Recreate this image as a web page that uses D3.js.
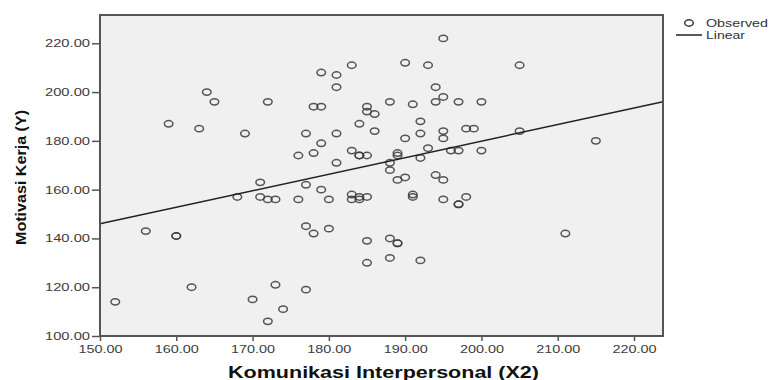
<!DOCTYPE html>
<html>
<head>
<meta charset="utf-8">
<script src="https://cdn.jsdelivr.net/npm/d3@7"></script>
<style>
  body { margin: 0; background: #fff; }
  svg { display: block; font-family: "Liberation Sans", Arial, sans-serif; }
</style>
</head>
<body>
<div id="chart"></div>
<script>
// Komunikasi Interpersonal (X2)
const komunikasi = [
  152, 156, 160, 160, 162, 159, 163, 164, 165, 169, 172, 171, 168, 171, 172, 173, 176, 180, 183, 183,
  184, 184, 185, 191, 191, 195, 197, 197, 198, 176, 178, 183, 184, 184, 185, 189, 189, 181, 188, 188,
  192, 193, 189, 190, 194, 195, 196, 197, 200, 177, 179, 177, 178, 180, 185, 188, 189, 189, 185, 188,
  192, 173, 177, 174, 170, 172, 195, 179, 181, 183, 190, 193, 181, 194, 178, 179, 185, 185, 186, 188,
  191, 194, 195, 197, 200, 177, 181, 179, 184, 186, 192, 192, 190, 195, 195, 198, 199, 205, 205, 215,
  211
];
// Motivasi Kerja (Y)
const motivasi = [
  114, 143, 141, 141, 120, 187, 185, 200, 196, 183, 196, 163, 157, 157, 156, 156, 156, 156, 158, 156,
  157, 156, 157, 158, 157, 156, 154, 154, 157, 174, 175, 176, 174, 174, 174, 175, 174, 171, 171, 168,
  173, 177, 164, 165, 166, 164, 176, 176, 176, 162, 160, 145, 142, 144, 139, 140, 138, 138, 130, 132,
  131, 121, 119, 111, 115, 106, 222, 208, 207, 211, 212, 211, 202, 202, 194, 194, 194, 192, 191, 196,
  195, 196, 198, 196, 196, 183, 183, 179, 187, 184, 188, 183, 181, 184, 181, 185, 185, 211, 184, 180,
  142
];
const xTicks = [150, 160, 170, 180, 190, 200, 210, 220];
const yTicks = [100, 120, 140, 160, 180, 200, 220];
const xDomain = [150, 223.8];
const yDomain = [100, 231.6];
// linear fit
const fitIntercept = 44.3;
const fitSlope = 0.678;
const legendLabels = ["Observed", "Linear"];

const W = 771, H = 380;
const margin = { t: 15, r: 108, b: 44, l: 100 };

const svg = d3.select("#chart").append("svg")
  .attr("width", W)
  .attr("height", H);

const x = d3.scaleLinear().domain(xDomain).range([margin.l, W - margin.r]);
const y = d3.scaleLinear().domain(yDomain).range([H - margin.b, margin.t]);

// plot background
svg.append("rect")
  .attr("x", x.range()[0])
  .attr("y", y.range()[1])
  .attr("width", x.range()[1] - x.range()[0])
  .attr("height", y.range()[0] - y.range()[1])
  .attr("fill", "#f0f0f0");

// axes
const fmt = d3.format(".2f");
const ay = svg.append("g")
  .attr("transform", `translate(${margin.l},0)`)
  .call(d3.axisLeft(y).tickValues(yTicks).tickFormat(fmt).tickSize(8).tickPadding(2))
  .call((g) => g.select(".domain").remove());
ay.selectAll("line").attr("stroke", "#555").attr("stroke-width", 1.5);
ay.selectAll("text")
  .attr("fill", "#3c3c3c")
  .attr("font-size", 11)
  .attr("textLength", 45)
  .attr("lengthAdjust", "spacingAndGlyphs");

const ax = svg.append("g")
  .attr("transform", `translate(0,${H - margin.b})`)
  .call(d3.axisBottom(x).tickValues(xTicks).tickFormat(fmt).tickSize(5).tickPadding(4))
  .call((g) => g.select(".domain").remove());
ax.selectAll("line").attr("stroke", "#555").attr("stroke-width", 1.5);
ax.selectAll("text")
  .attr("fill", "#3c3c3c")
  .attr("font-size", 11)
  .attr("textLength", 44)
  .attr("lengthAdjust", "spacingAndGlyphs");

// points
svg.append("g")
  .selectAll("ellipse")
  .data(komunikasi.map((d, i) => [d, motivasi[i]]))
  .join("ellipse")
  .attr("cx", (d) => x(d[0]))
  .attr("cy", (d) => y(d[1]))
  .attr("rx", 4.3)
  .attr("ry", 3.2)
  .attr("fill", "none")
  .attr("stroke", "#3a3a3a")
  .attr("stroke-opacity", 0.85)
  .attr("stroke-width", 1.5);

// fit line
const fit = (v) => fitIntercept + fitSlope * v;
svg.append("line")
  .attr("x1", x(xDomain[0]))
  .attr("y1", y(fit(xDomain[0])))
  .attr("x2", x(xDomain[1]))
  .attr("y2", y(fit(xDomain[1])))
  .attr("stroke", "#222")
  .attr("stroke-width", 1.5);

// frame
svg.append("rect")
  .attr("x", x.range()[0])
  .attr("y", y.range()[1])
  .attr("width", x.range()[1] - x.range()[0])
  .attr("height", y.range()[0] - y.range()[1])
  .attr("fill", "none")
  .attr("stroke", "#555")
  .attr("stroke-width", 2);

// titles
svg.append("text")
  .attr("transform", `translate(26,${(y.range()[0] + y.range()[1]) / 2 + 2}) rotate(-90)`)
  .attr("text-anchor", "middle")
  .attr("font-size", 15)
  .attr("font-weight", "bold")
  .attr("fill", "#111")
  .attr("textLength", 135)
  .attr("lengthAdjust", "spacingAndGlyphs")
  .text("Motivasi Kerja (Y)");

svg.append("text")
  .attr("x", (x.range()[0] + x.range()[1]) / 2 + 2)
  .attr("y", 378)
  .attr("text-anchor", "middle")
  .attr("font-size", 16)
  .attr("font-weight", "bold")
  .attr("fill", "#111")
  .attr("textLength", 311)
  .attr("lengthAdjust", "spacingAndGlyphs")
  .text("Komunikasi Interpersonal (X2)");

// legend
const lg = svg.append("g").attr("transform", "translate(676,23)");
lg.append("ellipse")
  .attr("cx", 13).attr("cy", 0)
  .attr("rx", 4.3).attr("ry", 3.2)
  .attr("fill", "none")
  .attr("stroke", "#3a3a3a")
  .attr("stroke-width", 1.5);
lg.append("line")
  .attr("x1", 0).attr("x2", 26)
  .attr("y1", 12).attr("y2", 12)
  .attr("stroke", "#222")
  .attr("stroke-width", 1.5);
lg.selectAll("text")
  .data(legendLabels)
  .join("text")
  .attr("x", 30)
  .attr("y", (d, i) => i * 12 + 4)
  .attr("font-size", 11)
  .attr("fill", "#333")
  .attr("textLength", (d, i) => (i === 0 ? 62 : 39))
  .attr("lengthAdjust", "spacingAndGlyphs")
  .text((d) => d);
</script>
</body>
</html>
